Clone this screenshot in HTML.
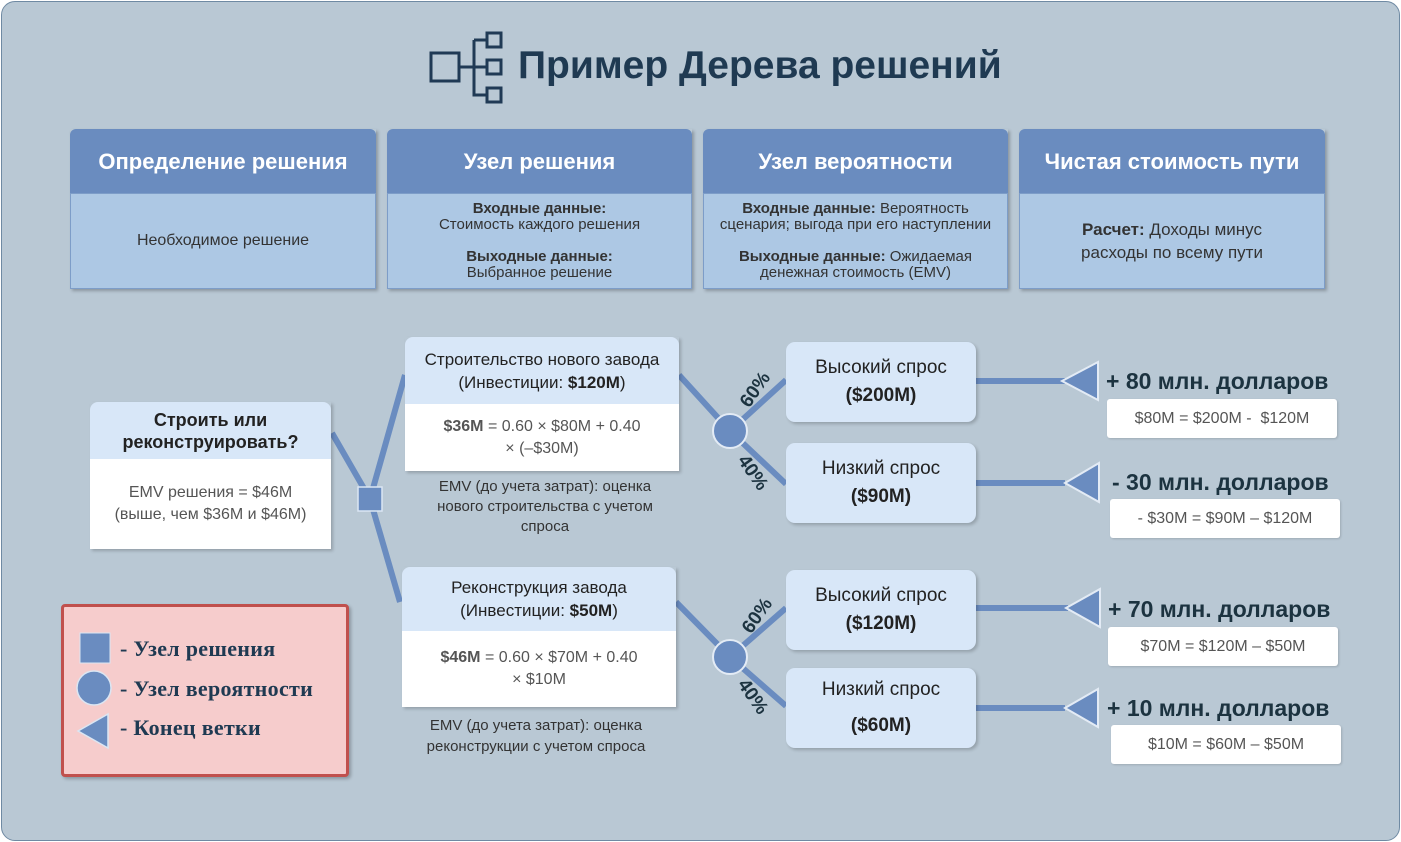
<!DOCTYPE html>
<html><head><meta charset="utf-8"><style>
body{margin:0;width:1401px;height:842px;background:#fff;font-family:"Liberation Sans",sans-serif;overflow:hidden}
.frame{position:absolute;left:1px;top:1px;width:1397px;height:838px;background:#b9c8d4;border:1px solid #6f8aa3;border-radius:14px}
.a{position:absolute}
.card{position:absolute;top:129px;height:160px;box-shadow:2px 2px 3px rgba(0,0,0,.25)}
.card .h{height:64px;background:#6a8cbf;color:#fff;font-weight:bold;font-size:22px;display:flex;align-items:center;justify-content:center;border-radius:6px 6px 0 0;padding-top:2px;box-sizing:border-box}
.card .b{height:94px;background:#adc8e4;border:1px solid #7d9dc8;color:#333;font-size:15px;text-align:center;display:flex;flex-direction:column;justify-content:center;line-height:16px}
.node{position:absolute;box-shadow:2px 2px 3px rgba(0,0,0,.2)}
.node .h{background:#d8e7f8;text-align:center;color:#222;border-radius:8px 8px 0 0}
.node .b{background:#fff;text-align:center;color:#555;}
.out{position:absolute;width:190px;height:80px;background:#d8e7f8;border-radius:9px;box-shadow:2px 2px 3px rgba(0,0,0,.2);text-align:center;font-size:19px;color:#222;line-height:28px;display:flex;flex-direction:column;justify-content:center}
.res{position:absolute;font-weight:bold;font-size:23px;color:#1c3340;white-space:nowrap}
.rb{position:absolute;width:230px;height:39px;background:#fff;border-radius:3px;text-align:center;line-height:39px;font-size:16px;color:#555;box-shadow:1px 1px 2px rgba(0,0,0,.15)}
.leg{font-family:"Liberation Serif",serif;font-weight:bold;font-size:22px;color:#1f3a52;position:absolute;left:120px;letter-spacing:0.3px}
</style></head><body>
<div class="frame"></div>
<svg class="a" style="left:0;top:0" width="1401" height="842">
<g fill="none" stroke="#203a55" stroke-width="3">
<rect x="431" y="53" width="28" height="28"/><rect x="487" y="33" width="14" height="14"/><rect x="487" y="60" width="14" height="14"/><rect x="487" y="88" width="14" height="14"/>
<path d="M459 67H487M474 40H487M474 40V95H487"/></g>
<g stroke="#6a8cc0" stroke-width="6" fill="none">
<path d="M332 433L370 499L405 375"/><path d="M370 499L400 602"/>
<path d="M679 375L730 431L786 380"/><path d="M730 431L786 484"/>
<path d="M676 602L730 657L786 608"/><path d="M730 657L786 706"/>
<path d="M976 381H1065M976 483H1065M976 608H1068M976 708H1065"/>
</g>
<rect x="358" y="487" width="24" height="24" fill="#6a8cc0" stroke="#dbe6f3" stroke-width="1.5"/>
<circle cx="730" cy="431" r="17" fill="#6a8cc0" stroke="#e3ebf5" stroke-width="2"/>
<circle cx="730" cy="657" r="17" fill="#6a8cc0" stroke="#e3ebf5" stroke-width="2"/>
<g fill="#6a8cc0" stroke="#e3ebf5" stroke-width="2">
<path d="M1062 381L1098 362V400Z"/><path d="M1065 483L1099 463V502Z"/><path d="M1066 608L1100 589V627Z"/><path d="M1065 708L1098 689V727Z"/>
</g>
<g font-family="Liberation Sans" font-weight="bold" font-size="19" fill="#1c3340">
<text transform="translate(760 393) rotate(-55)" text-anchor="middle">60%</text>
<text transform="translate(748 476) rotate(55)" text-anchor="middle">40%</text>
<text transform="translate(762 619) rotate(-55)" text-anchor="middle">60%</text>
<text transform="translate(748 700) rotate(55)" text-anchor="middle">40%</text>
</g>
</svg>
<div class="a" style="left:518px;top:44px;font-size:39px;font-weight:bold;color:#1f3a52">Пример Дерева решений</div>

<div class="card" style="left:70px;width:306px"><div class="h">Определение решения</div><div class="b" style="font-size:16px">Необходимое решение</div></div>
<div class="card" style="left:387px;width:305px"><div class="h">Узел решения</div><div class="b"><b>Входные данные:</b>Стоимость каждого решения<br><br><b>Выходные данные:</b>Выбранное решение</div></div>
<div class="card" style="left:703px;width:305px"><div class="h">Узел вероятности</div><div class="b"><span><b>Входные данные:</b> Вероятность<br>сценария; выгода при его наступлении</span><br><span><b>Выходные данные:</b> Ожидаемая<br>денежная стоимость (EMV)</span></div></div>
<div class="card" style="left:1019px;width:306px"><div class="h">Чистая стоимость пути</div><div class="b" style="font-size:17px;line-height:23px"><span><b>Расчет:</b> Доходы минус<br>расходы по всему пути</span></div></div>

<div class="node" style="left:90px;top:402px;width:241px"><div class="h" style="height:57px;font-weight:bold;font-size:18px;line-height:22px;display:flex;align-items:center;justify-content:center">Строить или<br>реконструировать?</div><div class="b" style="height:90px;font-size:16px;line-height:22px;display:flex;align-items:center;justify-content:center">EMV решения = $46M<br>(выше, чем $36M и $46M)</div></div>

<div class="node" style="left:405px;top:337px;width:274px"><div class="h" style="height:67px;font-size:17px;line-height:23px;display:flex;align-items:center;justify-content:center"><span>Строительство нового завода<br>(Инвестиции: <b>$120M</b>)</span></div><div class="b" style="height:67px;font-size:16px;line-height:22px;display:flex;align-items:center;justify-content:center"><span><b>$36M</b> = 0.60 × $80M + 0.40<br>× (–$30M)</span></div></div>
<div class="a" style="left:415px;top:477px;width:260px;text-align:center;font-size:15px;line-height:20px;color:#333">EMV (до учета затрат): оценка нового строительства с учетом спроса</div>

<div class="node" style="left:402px;top:567px;width:274px"><div class="h" style="height:64px;font-size:17px;line-height:23px;display:flex;align-items:center;justify-content:center"><span>Реконструкция завода<br>(Инвестиции: <b>$50M</b>)</span></div><div class="b" style="height:76px;font-size:16px;line-height:22px;display:flex;align-items:center;justify-content:center"><span><b>$46M</b> = 0.60 × $70M + 0.40<br>× $10M</span></div></div>
<div class="a" style="left:400px;top:715px;width:272px;text-align:center;font-size:15px;line-height:21px;color:#333">EMV (до учета затрат): оценка реконструкции с учетом спроса</div>

<div class="out" style="left:786px;top:342px">Высокий спрос<br><b>($200M)</b></div>
<div class="out" style="left:786px;top:443px">Низкий спрос<br><b>($90M)</b></div>
<div class="out" style="left:786px;top:570px">Высокий спрос<br><b>($120M)</b></div>
<div class="out" style="left:786px;top:668px;line-height:36px">Низкий спрос<br><b>($60M)</b></div>

<div class="res" style="left:1106px;top:368px">+ 80 млн. долларов</div>
<div class="rb" style="left:1107px;top:399px">$80M = $200M -&nbsp; $120M</div>
<div class="res" style="left:1112px;top:469px">- 30 млн. долларов</div>
<div class="rb" style="left:1110px;top:499px">- $30M = $90M – $120M</div>
<div class="res" style="left:1108px;top:596px">+ 70 млн. долларов</div>
<div class="rb" style="left:1108px;top:627px">$70M = $120M – $50M</div>
<div class="res" style="left:1107px;top:695px">+ 10 млн. долларов</div>
<div class="rb" style="left:1111px;top:725px">$10M = $60M – $50M</div>

<div class="a" style="left:61px;top:604px;width:282px;height:167px;background:#f6cccc;border:3px solid #c0504d;border-radius:4px;box-shadow:2px 2px 3px rgba(0,0,0,.25)"></div>
<svg class="a" style="left:0;top:0" width="400" height="800">
<rect x="80" y="633" width="30" height="30" fill="#6a8cc0" stroke="#dbe6f3"/>
<circle cx="94" cy="688" r="17" fill="#6a8cc0" stroke="#dbe6f3" stroke-width="1.5"/>
<path d="M78 731L108 714V748Z" fill="#6a8cc0" stroke="#dbe6f3" stroke-width="1.5"/>
</svg>
<div class="leg" style="top:636px">- Узел решения</div>
<div class="leg" style="top:676px">- Узел вероятности</div>
<div class="leg" style="top:715px">- Конец ветки</div>
</body></html>
